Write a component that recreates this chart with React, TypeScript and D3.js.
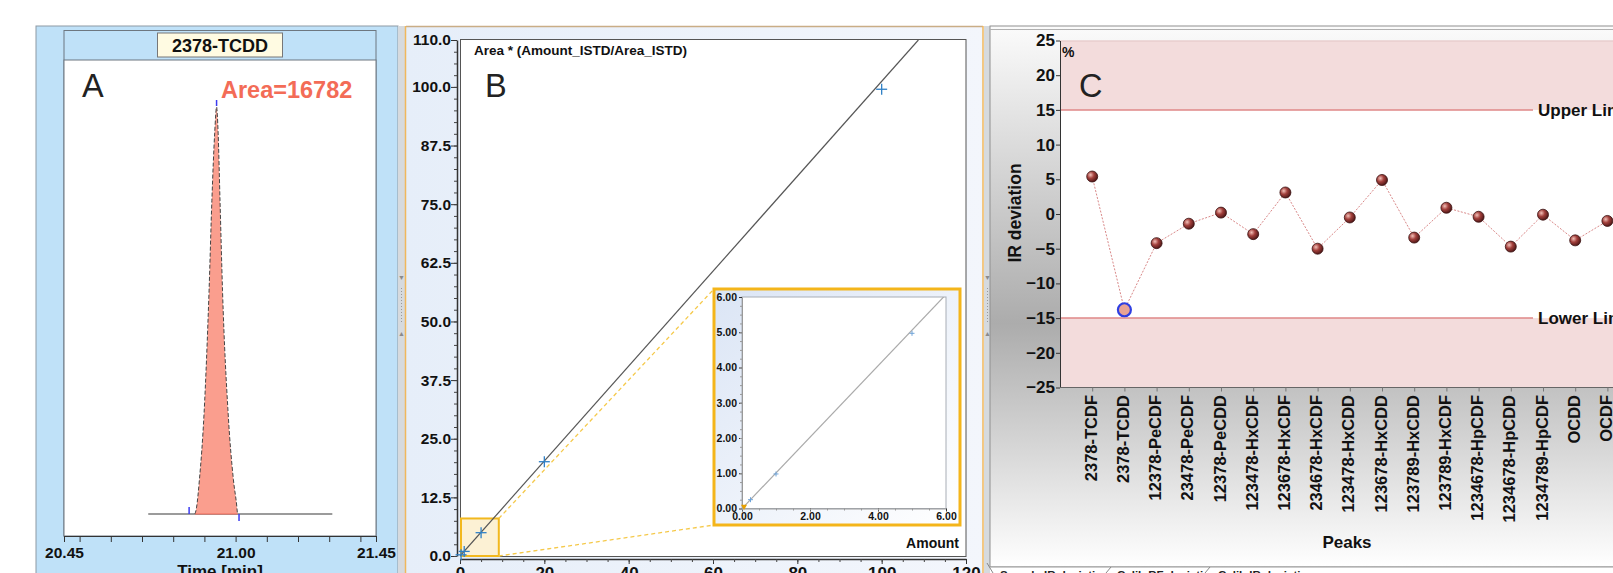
import React, { useEffect, useRef } from 'react';
import * as d3 from 'd3';

const FONT = '"Liberation Sans", Arial, sans-serif';

// A: chromatogram of one peak
const peakName = '2378-TCDD';
const peakArea = 16782;
const peakTime = [20.870, 20.875, 20.884, 20.899, 20.915, 20.924, 20.933, 20.939, 20.944, 20.950, 20.958, 20.976, 20.993, 21.004, 21.006];
const peakIntensity = [0, 1.7, 8.4, 24.8, 55, 77.1, 93.6, 100, 93.6, 77.1, 55, 24.8, 8.4, 1.7, 0];
const baselineTime = [20.72, 21.31];
const markerTime = [20.851, 20.939, 21.011];
const timeLabels = [20.45, 21.0, 21.45];
const timeMinor = [20.5, 20.6, 20.7, 20.8, 20.9, 21.1, 21.2, 21.3, 21.4];

// B: calibration curve
const calAmount = [0.25, 1, 5, 20, 100];
const calResponse = [0.25, 0.98, 4.97, 20.1, 99.5];
const fitAmount = [0, 108.7];
const fitResponse = [0, 110];
const respTicks = [0, 12.5, 25, 37.5, 50, 62.5, 75, 87.5, 100, 110];
const amountTicks = [0, 20, 40, 60, 80, 100, 120];
const zoomAmount = [0, 9.2];
const zoomResponse = [0, 8];
const insetYTicks = [0, 1, 2, 3, 4, 5, 6];
const insetXTicks = [0, 2, 4, 6];

// C: IR deviation per peak
const peakNames = ['2378-TCDF', '2378-TCDD', '12378-PeCDF', '23478-PeCDF', '12378-PeCDD', '123478-HxCDF', '123678-HxCDF',
  '234678-HxCDF', '123478-HxCDD', '123678-HxCDD', '123789-HxCDD', '123789-HxCDF', '1234678-HpCDF', '1234678-HpCDD',
  '1234789-HpCDF', 'OCDD', 'OCDF'];
const irDeviation = [5.4, -13.8, -4.2, -1.4, 0.2, -2.9, 3.1, -5.0, -0.5, 4.9, -3.4, 0.9, -0.4, -4.7, -0.1, -3.8, -1.0];
const devTicks = [25, 20, 15, 10, 5, 0, -5, -10, -15, -20, -25];
const upperLimit = 15;
const lowerLimit = -15;
const highlighted = '2378-TCDD';
const tabs = ['Sample IR deviation', 'Calib RF deviation', 'Calib IR deviation'];

function styleAxis(g, size, color = '#111') {
  g.selectAll('path').attr('stroke', '#333');
  g.selectAll('line').attr('stroke', '#333');
  g.selectAll('text').attr('font-family', FONT).attr('font-weight', 'bold')
    .attr('font-size', size).attr('fill', color);
}

function grip(svg, x) {
  svg.append('rect').attr('x', x).attr('y', 26).attr('width', 7).attr('height', 547).attr('fill', '#d6dade');
  svg.append('text').attr('x', x + 3.5).attr('y', 280).attr('text-anchor', 'middle')
    .attr('font-size', 7).attr('fill', '#8a8a8a').text('▼');
  svg.append('line').attr('x1', x + 3.5).attr('x2', x + 3.5).attr('y1', 288).attr('y2', 322)
    .attr('stroke', '#999').attr('stroke-dasharray', '1,2');
  svg.append('text').attr('x', x + 3.5).attr('y', 336).attr('text-anchor', 'middle')
    .attr('font-size', 7).attr('fill', '#8a8a8a').text('▲');
}

export default function App() {
  const svgRef = useRef(null);

  useEffect(() => {
    const svg = d3.select(svgRef.current);
    svg.selectAll('*').remove();
    const defs = svg.append('defs');

    const bgB = defs.append('linearGradient').attr('id', 'bgB').attr('x1', 0).attr('x2', 1).attr('y1', 0).attr('y2', 0);
    bgB.append('stop').attr('offset', '0%').attr('stop-color', '#e6eef9');
    bgB.append('stop').attr('offset', '100%').attr('stop-color', '#f3f6fc');

    const bgInset = defs.append('linearGradient').attr('id', 'bgInset').attr('x1', 0).attr('x2', 1).attr('y1', 0).attr('y2', 1);
    bgInset.append('stop').attr('offset', '0%').attr('stop-color', '#dbe5f5');
    bgInset.append('stop').attr('offset', '100%').attr('stop-color', '#ffffff');

    const bgC = defs.append('linearGradient').attr('id', 'bgC').attr('x1', 0).attr('x2', 0).attr('y1', 0).attr('y2', 1);
    bgC.append('stop').attr('offset', '0%').attr('stop-color', '#fbfbfb');
    bgC.append('stop').attr('offset', '55%').attr('stop-color', '#acacac');
    bgC.append('stop').attr('offset', '100%').attr('stop-color', '#ffffff');

    const ball = defs.append('radialGradient').attr('id', 'ball').attr('cx', '35%').attr('cy', '35%').attr('r', '70%');
    ball.append('stop').attr('offset', '0%').attr('stop-color', '#f2c0b8');
    ball.append('stop').attr('offset', '45%').attr('stop-color', '#a3403c');
    ball.append('stop').attr('offset', '100%').attr('stop-color', '#4a1414');

    defs.append('clipPath').attr('id', 'clipB').append('rect')
      .attr('x', 460).attr('y', 40).attr('width', 506).attr('height', 516);
    defs.append('clipPath').attr('id', 'clipI').append('rect')
      .attr('x', 742).attr('y', 297).attr('width', 204).attr('height', 212);

    // ---------- Panel A ----------
    const xA = d3.scaleLinear().domain([20.45, 21.45]).range([64, 376]);
    const yA = d3.scaleLinear().domain([0, 100]).range([514, 107]);

    svg.append('rect').attr('x', 36).attr('y', 26).attr('width', 362).attr('height', 548)
      .attr('fill', '#bfe1f8').attr('stroke', '#8d99a3');
    svg.append('rect').attr('x', 64).attr('y', 30.5).attr('width', 312).attr('height', 505.5)
      .attr('fill', 'none').attr('stroke', '#6d7780');
    svg.append('rect').attr('x', 64).attr('y', 60).attr('width', 312).attr('height', 476)
      .attr('fill', '#fff').attr('stroke', '#6d7780');
    svg.append('rect').attr('x', 157.5).attr('y', 33).attr('width', 125).attr('height', 24)
      .attr('fill', '#fffbe2').attr('stroke', '#777');
    svg.append('text').attr('x', 220).attr('y', 51.5).attr('text-anchor', 'middle')
      .attr('font-family', FONT).attr('font-weight', 'bold').attr('font-size', 18).attr('fill', '#111')
      .text(peakName);
    svg.append('text').attr('x', 82).attr('y', 97).attr('font-family', FONT)
      .attr('font-size', 32.5).attr('fill', '#222').text('A');
    svg.append('text').attr('x', 221).attr('y', 97.5).attr('font-family', FONT).attr('font-weight', 'bold')
      .attr('font-size', 23.5).attr('fill', '#f36c57').text('Area=' + peakArea);

    const peak = peakTime.map((t, i) => [t, peakIntensity[i]]);
    svg.append('line').attr('x1', xA(baselineTime[0])).attr('x2', xA(baselineTime[1]))
      .attr('y1', yA(0)).attr('y2', yA(0)).attr('stroke', '#7a7a7a').attr('stroke-width', 1.5);
    svg.append('path').datum(peak)
      .attr('d', d3.area().x(d => xA(d[0])).y0(yA(0)).y1(d => yA(d[1])).curve(d3.curveMonotoneX))
      .attr('fill', '#fa9e8e');
    svg.append('path').datum(peak)
      .attr('d', d3.line().x(d => xA(d[0])).y(d => yA(d[1])).curve(d3.curveMonotoneX))
      .attr('fill', 'none').attr('stroke', '#444').attr('stroke-width', 1).attr('stroke-dasharray', '4,2');
    svg.append('line').attr('x1', xA(peakTime[0])).attr('x2', xA(peakTime[peakTime.length - 1]))
      .attr('y1', yA(0)).attr('y2', yA(0)).attr('stroke', '#f06a5a').attr('stroke-width', 1);
    const markerY = [[yA(0) - 7, yA(0)], [yA(100) - 7, yA(100) - 1], [yA(0), yA(0) + 7]];
    markerTime.forEach((t, i) => {
      svg.append('line').attr('x1', xA(t)).attr('x2', xA(t)).attr('y1', markerY[i][0]).attr('y2', markerY[i][1])
        .attr('stroke', '#3b3bf0').attr('stroke-width', 1.5);
    });

    const axA = svg.append('g').attr('transform', 'translate(0,536)')
      .call(d3.axisBottom(xA).tickValues([...timeLabels, ...timeMinor])
        .tickFormat(d => (timeLabels.includes(d) ? d3.format('.2f')(d) : ''))
        .tickSize(6).tickSizeOuter(0).tickPadding(5));
    styleAxis(axA, 15.5);
    svg.append('text').attr('x', 220).attr('y', 576.5).attr('text-anchor', 'middle')
      .attr('font-family', FONT).attr('font-weight', 'bold').attr('font-size', 17).attr('fill', '#111')
      .text('Time [min]');

    grip(svg, 398);

    // ---------- Panel B ----------
    const xB = d3.scaleLinear().domain([0, 120]).range([460, 966]);
    const yB = d3.scaleLinear().domain([0, 110]).range([556, 40]);

    svg.append('rect').attr('x', 406).attr('y', 26).attr('width', 577).attr('height', 548).attr('fill', 'url(#bgB)');
    svg.append('line').attr('x1', 406).attr('x2', 983).attr('y1', 26.5).attr('y2', 26.5).attr('stroke', '#c9ad86').attr('stroke-width', 1.5);
    svg.append('line').attr('x1', 405.5).attr('x2', 405.5).attr('y1', 26).attr('y2', 573).attr('stroke', '#f0b75c').attr('stroke-width', 1.5);
    svg.append('line').attr('x1', 983).attr('x2', 983).attr('y1', 26).attr('y2', 573).attr('stroke', '#f0b75c').attr('stroke-width', 1.5);
    svg.append('rect').attr('x', 460.5).attr('y', 39.5).attr('width', 505.5).attr('height', 517)
      .attr('fill', '#fff').attr('stroke', '#555');

    const axBy = svg.append('g').attr('transform', 'translate(457,0)')
      .call(d3.axisLeft(yB).tickValues(respTicks).tickFormat(d3.format('.1f')).tickSize(6).tickSizeOuter(0).tickPadding(0));
    styleAxis(axBy, 15.5);
    axBy.select('.domain').attr('stroke-width', 1.5);
    svg.append('g').attr('transform', 'translate(457,0)')
      .call(d3.axisLeft(yB).tickValues(d3.range(0, 110, 2.5)).tickFormat('').tickSize(3).tickSizeOuter(0))
      .call(g => g.select('.domain').remove())
      .selectAll('line').attr('stroke', '#444');

    const axBx = svg.append('g').attr('transform', 'translate(0,559)')
      .call(d3.axisBottom(xB).tickValues(amountTicks).tickSize(5).tickSizeOuter(0).tickPadding(3));
    styleAxis(axBx, 17);
    axBx.select('.domain').attr('stroke-width', 1.5);
    svg.append('g').attr('transform', 'translate(0,559)')
      .call(d3.axisBottom(xB).tickValues(d3.range(0, 120, 5)).tickFormat('').tickSize(3).tickSizeOuter(0))
      .call(g => g.select('.domain').remove())
      .selectAll('line').attr('stroke', '#444');

    svg.append('text').attr('x', 474).attr('y', 55).attr('font-family', FONT).attr('font-weight', 'bold')
      .attr('font-size', 13.5).attr('fill', '#111').text('Area * (Amount_ISTD/Area_ISTD)');
    svg.append('text').attr('x', 485).attr('y', 97).attr('font-family', FONT)
      .attr('font-size', 32.5).attr('fill', '#222').text('B');

    // zoom box and its guide lines
    const zx0 = xB(zoomAmount[0]), zx1 = xB(zoomAmount[1]);
    const zy0 = yB(zoomResponse[0]), zy1 = yB(zoomResponse[1]);
    const inset = { x0: 714, y0: 289, x1: 960, y1: 525 };
    svg.append('rect').attr('x', zx0 + 1).attr('y', zy1).attr('width', zx1 - zx0 - 1).attr('height', zy0 - zy1)
      .attr('fill', '#fcf1d4').attr('stroke', '#f2b81e').attr('stroke-width', 2);
    svg.append('line').attr('x1', zx1).attr('y1', zy1).attr('x2', inset.x0).attr('y2', inset.y0)
      .attr('stroke', '#f5c94a').attr('stroke-width', 1.3).attr('stroke-dasharray', '4,3');
    svg.append('line').attr('x1', zx1).attr('y1', zy0).attr('x2', inset.x0).attr('y2', inset.y1)
      .attr('stroke', '#f5c94a').attr('stroke-width', 1.3).attr('stroke-dasharray', '4,3');

    const lineB = d3.line().x(d => xB(d[0])).y(d => yB(d[1]));
    svg.append('path').datum(fitAmount.map((a, i) => [a, fitResponse[i]]))
      .attr('clip-path', 'url(#clipB)').attr('d', lineB)
      .attr('fill', 'none').attr('stroke', '#555').attr('stroke-width', 1.2);
    calAmount.forEach((a, i) => {
      const cx = xB(a), cy = yB(calResponse[i]), s = 5.5;
      const g = svg.append('g').attr('stroke', '#2f80c6').attr('stroke-width', 1.3);
      g.append('line').attr('x1', cx - s).attr('x2', cx + s).attr('y1', cy).attr('y2', cy);
      g.append('line').attr('x1', cx).attr('x2', cx).attr('y1', cy - s).attr('y2', cy + s);
    });

    // inset
    svg.append('rect').attr('x', inset.x0).attr('y', inset.y0).attr('width', inset.x1 - inset.x0)
      .attr('height', inset.y1 - inset.y0).attr('fill', 'url(#bgInset)').attr('stroke', '#f4b51a').attr('stroke-width', 3);
    const xI = d3.scaleLinear().domain([0, 6]).range([742, 946]);
    const yI = d3.scaleLinear().domain([0, 6]).range([508.5, 297]);
    svg.append('rect').attr('x', 742).attr('y', 297).attr('width', 204).attr('height', 211.5)
      .attr('fill', '#fff').attr('stroke', '#a8adb5');
    const axIy = svg.append('g').attr('transform', 'translate(742,0)')
      .call(d3.axisLeft(yI).tickValues(insetYTicks).tickFormat(d3.format('.2f')).tickSize(3).tickSizeOuter(0).tickPadding(2));
    styleAxis(axIy, 10.5);
    axIy.select('.domain').attr('stroke', '#999');
    svg.append('g').attr('transform', 'translate(742,0)')
      .call(d3.axisLeft(yI).tickValues(d3.range(0, 6, 0.25)).tickFormat('').tickSize(2).tickSizeOuter(0))
      .call(g => g.select('.domain').remove())
      .selectAll('line').attr('stroke', '#999');
    const axIx = svg.append('g').attr('transform', 'translate(0,508.5)')
      .call(d3.axisBottom(xI).tickValues(insetXTicks).tickFormat(d3.format('.2f')).tickSize(3).tickSizeOuter(0).tickPadding(1));
    styleAxis(axIx, 10.5);
    axIx.select('.domain').attr('stroke', '#999');
    svg.append('g').attr('transform', 'translate(0,508.5)')
      .call(d3.axisBottom(xI).tickValues(d3.range(0, 6, 0.5)).tickFormat('').tickSize(2).tickSizeOuter(0))
      .call(g => g.select('.domain').remove())
      .selectAll('line').attr('stroke', '#999');
    const lineI = d3.line().x(d => xI(d[0])).y(d => yI(d[1]));
    svg.append('path').datum(fitAmount.map((a, i) => [a, fitResponse[i]]))
      .attr('clip-path', 'url(#clipI)').attr('d', lineI)
      .attr('fill', 'none').attr('stroke', '#aaa').attr('stroke-width', 1.2);
    calAmount.filter(a => a <= 6).forEach((a, i) => {
      const cx = xI(a), cy = yI(calResponse[i]), s = 2.5;
      const g = svg.append('g').attr('stroke', '#6fa3d8').attr('stroke-width', 1);
      g.append('line').attr('x1', cx - s).attr('x2', cx + s).attr('y1', cy).attr('y2', cy);
      g.append('line').attr('x1', cx).attr('x2', cx).attr('y1', cy - s).attr('y2', cy + s);
    });
    svg.append('path').attr('d', d3.symbol(d3.symbolTriangle, 16)()).attr('transform', `translate(${xI(0) + 2},${yI(0) - 2}) rotate(180)`)
      .attr('fill', '#e8a000');
    svg.append('text').attr('x', 959).attr('y', 548).attr('text-anchor', 'end').attr('font-family', FONT)
      .attr('font-weight', 'bold').attr('font-size', 14).attr('fill', '#111').text('Amount');

    grip(svg, 984);

    // ---------- Panel C ----------
    const xC = d3.scalePoint().domain(peakNames).range([1060, 1060 + 32.2 * 18]).padding(1);
    const yC = d3.scaleLinear().domain([-25, 25]).range([387.5, 40.5]);

    svg.append('rect').attr('x', 990).attr('y', 26).attr('width', 630).attr('height', 541)
      .attr('fill', 'url(#bgC)').attr('stroke', '#8f8f8f');
    svg.append('line').attr('x1', 990).attr('x2', 1613).attr('y1', 29.5).attr('y2', 29.5).attr('stroke', '#b0b0b0');
    svg.append('rect').attr('x', 990).attr('y', 567).attr('width', 630).attr('height', 10).attr('fill', '#fff');
    svg.append('line').attr('x1', 990).attr('x2', 1613).attr('y1', 567).attr('y2', 567).attr('stroke', '#9a9a9a');

    const plotR = 1640;
    svg.append('rect').attr('x', 1060).attr('y', yC(25)).attr('width', plotR - 1060).attr('height', yC(-25) - yC(25)).attr('fill', '#fff');
    svg.append('rect').attr('x', 1060).attr('y', yC(25)).attr('width', plotR - 1060).attr('height', yC(upperLimit) - yC(25))
      .attr('fill', '#f3dcdc');
    svg.append('rect').attr('x', 1060).attr('y', yC(lowerLimit)).attr('width', plotR - 1060).attr('height', yC(-25) - yC(lowerLimit))
      .attr('fill', '#f3dcdc');
    svg.append('line').attr('x1', 1060).attr('x2', plotR).attr('y1', yC(25) + 0.5).attr('y2', yC(25) + 0.5).attr('stroke', '#e3c6c6');
    [upperLimit, lowerLimit].forEach((v, i) => {
      svg.append('line').attr('x1', 1060).attr('x2', 1533).attr('y1', yC(v)).attr('y2', yC(v))
        .attr('stroke', '#df8787').attr('stroke-width', 1.5);
      svg.append('text').attr('x', 1538).attr('y', yC(v)).attr('dy', '0.36em').attr('font-family', FONT)
        .attr('font-weight', 'bold').attr('font-size', 17).attr('fill', '#111').text(i === 0 ? 'Upper Limit' : 'Lower Limit');
    });

    const axCy = svg.append('g').attr('transform', 'translate(1060,0)')
      .call(d3.axisLeft(yC).tickValues(devTicks).tickSize(4).tickSizeOuter(0).tickPadding(1));
    styleAxis(axCy, 17);
    const axCx = svg.append('g').attr('transform', `translate(0,${yC(-25)})`)
      .call(d3.axisBottom(xC).tickSize(4).tickSizeOuter(0));
    styleAxis(axCx, 16.5);
    axCx.select('.domain').attr('d', `M1060,0H${plotR}`).attr('stroke', '#666');
    axCx.selectAll('line').attr('stroke', '#777');
    axCx.selectAll('text').attr('transform', 'rotate(-90)').attr('text-anchor', 'end')
      .attr('x', -7.5).attr('y', 4).attr('dy', 0);

    svg.append('text').attr('x', 1062).attr('y', 57).attr('font-family', FONT).attr('font-weight', 'bold')
      .attr('font-size', 14).attr('fill', '#111').text('%');
    svg.append('text').attr('x', 1079).attr('y', 97).attr('font-family', FONT)
      .attr('font-size', 32.5).attr('fill', '#222').text('C');
    svg.append('text').attr('transform', 'translate(1021,213) rotate(-90)').attr('text-anchor', 'middle')
      .attr('font-family', FONT).attr('font-weight', 'bold').attr('font-size', 17.5).attr('fill', '#111').text('IR deviation');
    svg.append('text').attr('x', 1347).attr('y', 548).attr('text-anchor', 'middle').attr('font-family', FONT)
      .attr('font-weight', 'bold').attr('font-size', 17).attr('fill', '#111').text('Peaks');

    const pts = peakNames.map((n, i) => [n, irDeviation[i]]);
    svg.append('path').datum(pts)
      .attr('d', d3.line().x(d => xC(d[0])).y(d => yC(d[1])))
      .attr('fill', 'none').attr('stroke', '#d98888').attr('stroke-width', 1).attr('stroke-dasharray', '2,1.5');
    pts.forEach(([n, v]) => {
      if (n === highlighted) {
        svg.append('circle').attr('cx', xC(n)).attr('cy', yC(v)).attr('r', 6.5)
          .attr('fill', '#e8a394').attr('stroke', '#2f3fe2').attr('stroke-width', 2.2);
      } else {
        svg.append('circle').attr('cx', xC(n)).attr('cy', yC(v)).attr('r', 5.5)
          .attr('fill', 'url(#ball)').attr('stroke', '#3a1212').attr('stroke-width', 0.8);
      }
    });

    // tab strip
    const tabX = [1000, 1117, 1218];
    tabs.forEach((t, i) => {
      svg.append('text').attr('x', tabX[i]).attr('y', 579).attr('font-family', FONT).attr('font-weight', 'bold')
        .attr('font-size', 11.5).attr('fill', '#222').text(t);
    });
    [[987, 563, 993, 573], [1111, 567, 1106, 573], [1210, 567, 1205, 573]].forEach(([x1, y1, x2, y2]) => {
      svg.append('line').attr('x1', x1).attr('y1', y1).attr('x2', x2).attr('y2', y2).attr('stroke', '#888');
    });
  }, []);

  return (
    <svg ref={svgRef} width={1613} height={573}
      style={{ position: 'absolute', left: 0, top: 0, display: 'block', background: '#fff' }} />
  );
}
